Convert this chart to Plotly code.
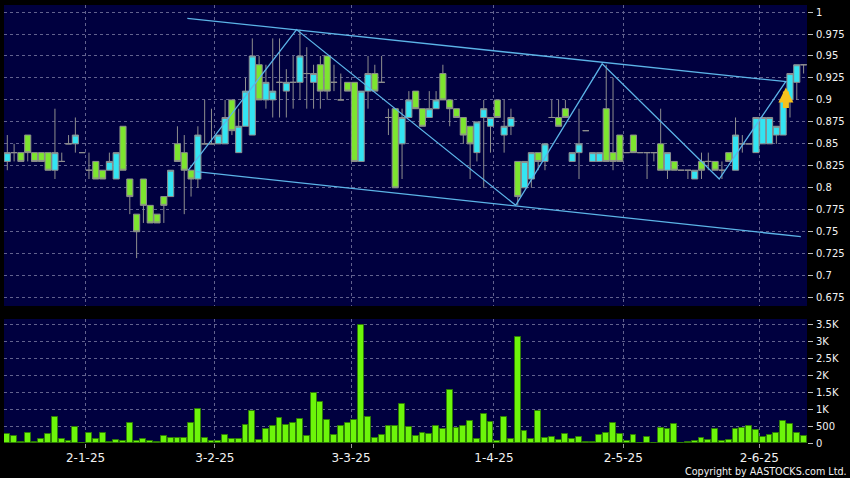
import plotly.graph_objects as go

# ---------------- data ----------------
opens = [0.83, 0.84, 0.84, 0.86, 0.84, 0.84, 0.84, 0.82, 0.83, 0.85,
         0.85, 0.84, 0.82, 0.83, 0.82, 0.82, 0.81, 0.87, 0.81, 0.77,
         0.81, 0.78, 0.77, 0.79, 0.79, 0.85, 0.84, 0.82, 0.81, 0.85,
         0.85, 0.85, 0.85, 0.90, 0.84, 0.87, 0.86, 0.94, 0.90, 0.90,
         0.92, 0.91, 0.92, 0.92, 0.93, 0.92, 0.94, 0.95, 0.92, 0.90,
         0.92, 0.92, 0.83, 0.91, 0.93, 0.92, 0.88, 0.89, 0.85, 0.88,
         0.91, 0.89, 0.88, 0.89, 0.93, 0.90, 0.89, 0.88, 0.87, 0.84,
         0.88, 0.87, 0.90, 0.86, 0.87, 0.83, 0.80, 0.81, 0.84, 0.83,
         0.88, 0.88, 0.89, 0.83, 0.84, 0.865, 0.83, 0.83, 0.89, 0.84,
         0.86, 0.84, 0.86, 0.84, 0.84, 0.84, 0.85, 0.82, 0.83, 0.82,
         0.82, 0.81, 0.83, 0.83, 0.83, 0.82, 0.84, 0.82, 0.85, 0.85,
         0.84, 0.85, 0.85, 0.86, 0.86, 0.90, 0.92, 0.94]
highs = [0.86, 0.85, 0.84, 0.86, 0.84, 0.84, 0.84, 0.89, 0.84, 0.86,
         0.88, 0.84, 0.84, 0.83, 0.82, 0.84, 0.84, 0.87, 0.81, 0.77,
         0.81, 0.78, 0.77, 0.79, 0.82, 0.87, 0.86, 0.82, 0.87, 0.90,
         0.89, 0.86, 0.90, 0.90, 0.89, 0.925, 0.97, 0.95, 0.94, 0.97,
         0.97, 0.935, 0.95, 0.98, 0.96, 0.94, 0.95, 0.95, 0.94, 0.93,
         0.92, 0.92, 0.91, 0.95, 0.94, 0.95, 0.89, 0.89, 0.89, 0.91,
         0.91, 0.89, 0.91, 0.91, 0.94, 0.90, 0.89, 0.88, 0.87, 0.875,
         0.90, 0.88, 0.90, 0.90, 0.89, 0.83, 0.83, 0.84, 0.84, 0.85,
         0.90, 0.90, 0.90, 0.84, 0.89, 0.865, 0.84, 0.84, 0.94, 0.925,
         0.86, 0.84, 0.86, 0.84, 0.84, 0.84, 0.89, 0.84, 0.83, 0.82,
         0.82, 0.82, 0.84, 0.84, 0.83, 0.83, 0.84, 0.88, 0.86, 0.85,
         0.88, 0.88, 0.88, 0.87, 0.90, 0.93, 0.94, 0.94]
lows = [0.82, 0.83, 0.83, 0.83, 0.83, 0.83, 0.82, 0.81, 0.83, 0.85,
        0.84, 0.84, 0.81, 0.81, 0.81, 0.82, 0.81, 0.82, 0.77, 0.72,
        0.76, 0.76, 0.76, 0.76, 0.79, 0.83, 0.77, 0.79, 0.80, 0.85,
        0.85, 0.85, 0.85, 0.86, 0.84, 0.87, 0.86, 0.90, 0.89, 0.88,
        0.88, 0.88, 0.89, 0.90, 0.89, 0.89, 0.89, 0.90, 0.91, 0.90,
        0.91, 0.83, 0.83, 0.89, 0.91, 0.92, 0.86, 0.80, 0.81, 0.88,
        0.89, 0.87, 0.88, 0.89, 0.90, 0.87, 0.88, 0.85, 0.81, 0.83,
        0.80, 0.84, 0.88, 0.84, 0.86, 0.78, 0.80, 0.80, 0.82, 0.82,
        0.88, 0.87, 0.88, 0.83, 0.81, 0.865, 0.83, 0.83, 0.83, 0.82,
        0.83, 0.84, 0.84, 0.84, 0.81, 0.83, 0.82, 0.81, 0.82, 0.82,
        0.81, 0.81, 0.81, 0.82, 0.82, 0.81, 0.83, 0.82, 0.84, 0.85,
        0.84, 0.85, 0.85, 0.85, 0.86, 0.88, 0.90, 0.93]
closes = [0.84, 0.84, 0.83, 0.84, 0.83, 0.83, 0.82, 0.84, 0.83, 0.85,
          0.86, 0.84, 0.82, 0.81, 0.81, 0.83, 0.84, 0.82, 0.79, 0.75,
          0.78, 0.76, 0.76, 0.78, 0.82, 0.83, 0.82, 0.81, 0.86, 0.85,
          0.85, 0.86, 0.88, 0.865, 0.87, 0.91, 0.95, 0.90, 0.92, 0.91,
          0.92, 0.92, 0.92, 0.95, 0.93, 0.93, 0.91, 0.91, 0.92, 0.90,
          0.91, 0.83, 0.91, 0.93, 0.91, 0.92, 0.88, 0.80, 0.88, 0.90,
          0.89, 0.87, 0.89, 0.90, 0.90, 0.89, 0.88, 0.86, 0.85, 0.875,
          0.89, 0.88, 0.88, 0.87, 0.88, 0.79, 0.83, 0.84, 0.83, 0.85,
          0.88, 0.87, 0.88, 0.84, 0.85, 0.865, 0.84, 0.84, 0.83, 0.83,
          0.83, 0.84, 0.84, 0.84, 0.84, 0.84, 0.82, 0.84, 0.82, 0.82,
          0.82, 0.82, 0.82, 0.83, 0.82, 0.82, 0.83, 0.86, 0.85, 0.85,
          0.88, 0.88, 0.88, 0.87, 0.90, 0.93, 0.94, 0.94]
volumes = [270, 220, 30, 300, 40, 120, 280, 770, 120, 70,
           470, 0, 300, 110, 300, 40, 100, 60, 590, 70,
           120, 60, 15, 220, 160, 160, 140, 600, 1020, 140,
           60, 60, 240, 130, 130, 520, 960, 100, 420, 500,
           730, 530, 580, 720, 200, 1480, 1200, 690, 250, 500,
           580, 690, 3500, 780, 150, 250, 510, 510, 1160, 470,
           220, 300, 270, 490, 400, 1570, 450, 510, 660, 130,
           860, 630, 50, 780, 130, 3130, 365, 110, 950, 150,
           190, 90, 260, 120, 190, 40, 15, 230, 290, 580,
           280, 60, 230, 10, 170, 10, 450, 400, 560, 10,
           20, 70, 160, 100, 410, 60, 100, 420, 430, 510,
           380, 170, 250, 300, 640, 560, 300, 200]

# month ticks (position = boundary before first trading day of the month)
month_tick_pos = [11.5, 30.5, 50.5, 71.5, 90.5, 110.5]
month_tick_labels = ["2-1-25", "3-2-25", "3-3-25", "1-4-25", "2-5-25", "2-6-25"]

price_tick_vals = [0.675, 0.7, 0.725, 0.75, 0.775, 0.8, 0.825, 0.85, 0.875,
                   0.9, 0.925, 0.95, 0.975, 1.0]
price_tick_text = ["0.675", "0.7", "0.725", "0.75", "0.775", "0.8", "0.825",
                   "0.85", "0.875", "0.9", "0.925", "0.95", "0.975", "1"]
vol_tick_vals = [0, 500, 1000, 1500, 2000, 2500, 3000, 3500]
vol_tick_text = ["0", "500", "1K", "1.5K", "2K", "2.5K", "3K", "3.5K"]

# drawn trend lines (bar index, price)
upper_channel_x = [26.45, 114.5]
upper_channel_y = [0.9928, 0.9207]
lower_channel_x = [27.8, 116.6]
lower_channel_y = [0.8183, 0.7444]
zigzag_x = [26.6, 42.5, 74.7, 87.4, 104.6, 114.4]
zigzag_y = [0.820, 0.980, 0.780, 0.941, 0.810, 0.921]
arrow_x, arrow_y = 114.4, 0.914

idx = list(range(len(opens)))

# ---------------- style ----------------
NAVY = "#00003f"
CYAN = "#33e4f2"
GREEN = "#7de52f"
VOLGREEN = "#6cf50a"
GREY = "#8e8e8e"
GRID = "#62628e"
LINE = "#5cb4e8"
TXT = "#f2f2f2"
FONT = "DejaVu Sans"

fig = go.Figure()

fig.add_trace(go.Candlestick(
    x=idx, open=opens, high=highs, low=lows, close=closes,
    increasing=dict(fillcolor=CYAN, line=dict(color=GREY, width=1)),
    decreasing=dict(fillcolor=GREEN, line=dict(color=GREY, width=1)),
    whiskerwidth=0, xaxis="x", yaxis="y", showlegend=False,
))

for xs, ys in [(upper_channel_x, upper_channel_y),
               (lower_channel_x, lower_channel_y),
               (zigzag_x, zigzag_y)]:
    fig.add_trace(go.Scatter(x=xs, y=ys, mode="lines",
                             line=dict(color=LINE, width=1.3),
                             xaxis="x", yaxis="y", showlegend=False,
                             hoverinfo="skip"))

fig.add_trace(go.Bar(
    x=idx, y=volumes, width=0.86,
    marker=dict(color=VOLGREEN, line=dict(color="#2e7d06", width=1)),
    xaxis="x2", yaxis="y2", showlegend=False,
))

xrange = [-0.485, 117.5]
common_x = dict(range=xrange, tickvals=month_tick_pos, showgrid=True,
                gridcolor=GRID, griddash="dot", gridwidth=1,
                zeroline=False, showline=False, fixedrange=True)

fig.update_layout(
    width=850, height=478,
    margin=dict(l=4, r=43, t=5, b=35),
    paper_bgcolor="#000000", plot_bgcolor=NAVY,
    font=dict(family=FONT, color=TXT, size=10),
    boxgap=0.1, boxgroupgap=0,
    xaxis=dict(**common_x, anchor="y", showticklabels=False, ticks="",
               rangeslider=dict(visible=False)),
    xaxis2=dict(**common_x, anchor="y2", matches="x",
                ticktext=month_tick_labels, ticks="outside", ticklen=4,
                tickcolor="#9a9a9a", tickfont=dict(size=12, family=FONT, color=TXT)),
    yaxis=dict(domain=[0.3128, 1.0], range=[0.6655, 1.008], side="right",
               anchor="x", tickvals=price_tick_vals, ticktext=price_tick_text,
               showgrid=True, gridcolor=GRID, griddash="dot", gridwidth=1,
               zeroline=False, ticks="outside", ticklen=5, tickcolor="#bdbdbd",
               ticklabelstandoff=1, tickfont=dict(size=10, family=FONT, color=TXT)),
    yaxis2=dict(domain=[0.0, 0.2831], range=[0, 3670], side="right",
                anchor="x2", tickvals=vol_tick_vals, ticktext=vol_tick_text,
                showgrid=True, gridcolor=GRID, griddash="dot", gridwidth=1,
                zeroline=False, ticks="outside", ticklen=5, tickcolor="#bdbdbd",
                ticklabelstandoff=1, tickfont=dict(size=10, family=FONT, color=TXT)),
    bargap=0,
)

fig.add_annotation(x=arrow_x, y=arrow_y, xref="x", yref="y", ax=0, ay=22,
                   showarrow=True, arrowhead=2, arrowsize=0.5, arrowwidth=6,
                   arrowcolor="#f7c21c", text="")

fig.add_annotation(text="Copyright by AASTOCKS.com Ltd.", xref="paper", yref="paper",
                   x=1.0523, y=-0.064, xanchor="right", yanchor="middle",
                   showarrow=False, font=dict(size=9.6, family=FONT, color=TXT))

fig.write_html("out.html",
               config={"displayModeBar": False},
               post_script="document.body.style.margin='0';document.body.style.padding='0';")
